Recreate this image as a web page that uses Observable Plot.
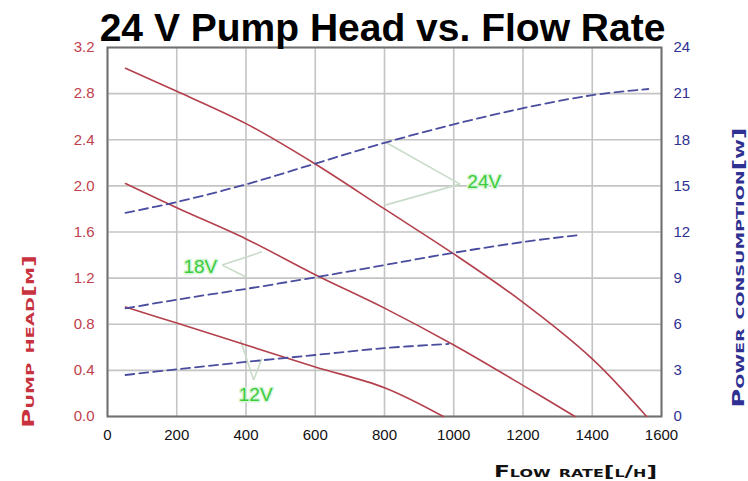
<!DOCTYPE html>
<html><head><meta charset="utf-8">
<script src="https://cdn.jsdelivr.net/npm/d3@7"></script>
<script src="https://cdn.jsdelivr.net/npm/@observablehq/plot@0.6"></script>
<style>html,body{margin:0;padding:0;background:#fff}#chart{width:748px;height:481px}</style>
</head><body><div id="chart"></div>
<script>
// ---- data ----
const titleText = "24 V Pump Head vs. Flow Rate";
const xTitle = "Flow rate[l/h]";
const yLeftTitle = "Pump head[m]";
const yRightTitle = "Power consumption[w]";
const xTicks = [0, 200, 400, 600, 800, 1000, 1200, 1400, 1600];
const headTicks = [0, 0.4, 0.8, 1.2, 1.6, 2.0, 2.4, 2.8, 3.2];
const powerTicks = [0, 3, 6, 9, 12, 15, 18, 21, 24];

const flow24 = [52, 200, 400, 600, 800, 1000, 1200, 1400, 1557];
const head24 = [3.02, 2.82, 2.54, 2.19, 1.80, 1.41, 0.99, 0.50, 0];
const flow18 = [52, 200, 400, 600, 800, 1000, 1200, 1350];
const head18 = [2.02, 1.81, 1.54, 1.23, 0.94, 0.62, 0.27, 0];
const flow12 = [52, 200, 400, 600, 800, 970];
const head12 = [0.95, 0.81, 0.62, 0.43, 0.25, 0];

const pFlow24 = [52, 200, 400, 600, 800, 1000, 1200, 1400, 1562];
const power24 = [13.25, 13.95, 15.1, 16.45, 17.8, 19.0, 20.05, 20.9, 21.3];
const pFlow18 = [52, 200, 400, 600, 800, 1000, 1200, 1360];
const power18 = [7.03, 7.6, 8.3, 9.05, 9.85, 10.65, 11.35, 11.8];
const pFlow12 = [52, 200, 400, 600, 800, 985];
const power12 = [2.7, 3.07, 3.55, 4.0, 4.45, 4.72];

const voltLabels = ["24V", "18V", "12V"];
const voltLabelFlow = [1088, 268, 428];
const voltLabelHead = [2.035, 1.30, 0.186];
const leaderFlowA = [1018, 1018, 331, 331, 422, 422];
const leaderHeadA = [2.015, 2.015, 1.313, 1.313, 0.316, 0.316];
const leaderFlowB = [802, 802, 446, 400, 384, 446];
const leaderHeadB = [2.38, 1.833, 1.428, 1.21, 0.663, 0.504];

// ---- build ----
const k = 3.2 / 24; // power -> head scale
const series = (xs, ys, f = 1) => xs.map((x, i) => ({x, y: ys[i] * f}));
const headColor = "#b3404c";
const powerColor = "#4a4c9e";
const titleFont = {fontSize: 16, fontWeight: "bold", fontVariant: "small-caps", fontFamily: "DejaVu Sans, sans-serif", textAnchor: "middle", lineAnchor: "middle"};

const chart = Plot.plot({
  width: 748, height: 481,
  marginTop: 47, marginBottom: 65, marginLeft: 107, marginRight: 87,
  style: {fontFamily: "Liberation Sans, Arial, sans-serif", fontSize: "15px", background: "#fff"},
  x: {domain: [0, 1600], axis: null},
  y: {domain: [0, 3.2], axis: null},
  marks: [
    Plot.gridX(xTicks, {stroke: "#c4c4c4", strokeOpacity: 1, strokeWidth: 1.6}),
    Plot.gridY(headTicks, {stroke: "#c4c4c4", strokeOpacity: 1, strokeWidth: 1.6}),
    Plot.frame({stroke: "#707070", strokeWidth: 2}),
    Plot.link(leaderFlowA, {x1: d => d, y1: (d, i) => leaderHeadA[i], x2: (d, i) => leaderFlowB[i], y2: (d, i) => leaderHeadB[i], stroke: "#c9dbc9", strokeWidth: 1.6}),
    ...[[flow24, head24], [flow18, head18], [flow12, head12]].map(([xs, ys]) =>
      Plot.line(series(xs, ys), {x: "x", y: "y", curve: "catmull-rom", stroke: headColor, strokeWidth: 1.6})),
    ...[[pFlow24, power24], [pFlow18, power18], [pFlow12, power12]].map(([xs, ys]) =>
      Plot.line(series(xs, ys, k), {x: "x", y: "y", curve: "catmull-rom", stroke: powerColor, strokeWidth: 1.8, strokeDasharray: "9,5"})),
    Plot.text(voltLabels, {x: (d, i) => voltLabelFlow[i], y: (d, i) => voltLabelHead[i], text: d => d,
      textAnchor: "middle", fill: "#3ccc3c", stroke: "#d8f5d8", strokeWidth: 3, paintOrder: "stroke",
      fontSize: 19, fontFamily: "Liberation Sans, Arial, sans-serif"}),
    Plot.axisX(xTicks, {anchor: "bottom", tickSize: 0, tickPadding: 13, tickFormat: d => String(d), color: "#111", fontSize: 15, label: null}),
    Plot.axisY(headTicks, {anchor: "left", tickSize: 0, tickPadding: 13, tickFormat: d3.format(".1f"), color: "#c0404c", fontSize: 15, label: null}),
    Plot.axisY(headTicks, {anchor: "right", tickSize: 0, tickPadding: 12, tickFormat: (d, i) => String(powerTicks[i]), color: "#2e3192", fontSize: 15, label: null}),
    Plot.text([yLeftTitle], {...titleFont, frameAnchor: "bottom-left", dx: -79, dy: -75, rotate: -90, text: d => d, fill: "#c8323e"}),
    Plot.text([yRightTitle], {...titleFont, frameAnchor: "bottom-right", dx: 77, dy: -149, rotate: -90, text: d => d, fill: "#2e3192"}),
    Plot.text([xTitle], {...titleFont, frameAnchor: "bottom-right", dx: -86, dy: 55, text: d => d, fill: "#111"}),
    Plot.text([titleText], {frameAnchor: "top", dx: -2, dy: -7, lineAnchor: "bottom", text: d => d,
      fill: "#000", fontSize: 39, fontWeight: "bold", fontFamily: "Liberation Sans, Arial, sans-serif"})
  ]
});
// stretch the extended-style axis titles to the reference widths
const titleLengths = new Map([[yLeftTitle, 173], [yRightTitle, 280], [xTitle, 163]]);
chart.querySelectorAll("text").forEach(t => {
  const len = titleLengths.get(t.textContent);
  if (len) { t.setAttribute("textLength", len); t.setAttribute("lengthAdjust", "spacingAndGlyphs"); }
});
document.getElementById("chart").append(chart);
</script>
</body></html>
